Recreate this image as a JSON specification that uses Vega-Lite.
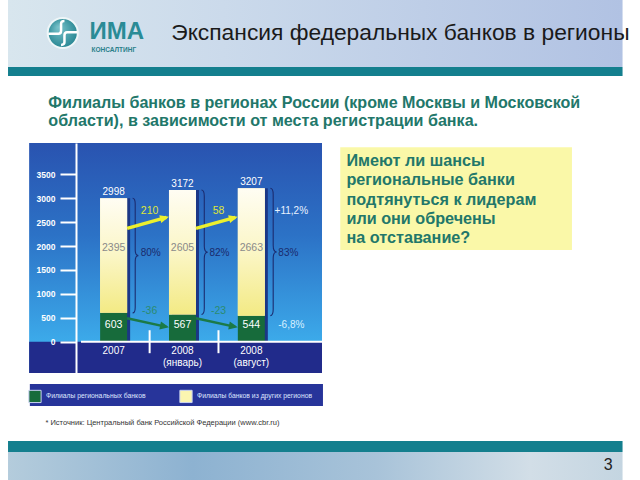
{
  "$schema": "https://vega.github.io/schema/vega-lite/v6.json",
  "width": 251,
  "height": 230,
  "autosize": {"type": "none"},
  "padding": {"left": 76, "top": 143, "right": 313, "bottom": 107},
  "background": "#ffffff",
  "config": {"font": "Liberation Sans", "view": {"stroke": null},
    "locale": {"number": {"decimal": ",", "thousands": "", "grouping": [3], "currency": ["", ""], "minus": "-"}}},
  "resolve": {"axis": {"y": "independent", "x": "independent"}},
  "datasets": {
    "bars": [
      {"n": 1, "period": "2007", "Филиалы региональных банков": 603, "Филиалы банков из других регионов": 2395, "total": 2998, "share": 0.799},
      {"n": 2, "period": "2008 (январь)", "Филиалы региональных банков": 567, "Филиалы банков из других регионов": 2605, "total": 3172, "share": 0.821},
      {"n": 3, "period": "2008 (август)", "Филиалы региональных банков": 544, "Филиалы банков из других регионов": 2663, "total": 3207, "share": 0.830}
    ],
    "changes": [
      {"from": 1, "to": 2, "series": "other", "change": 210},
      {"from": 2, "to": 3, "series": "other", "change": 58},
      {"from": 1, "to": 2, "series": "regional", "change": -36},
      {"from": 2, "to": 3, "series": "regional", "change": -23}
    ],
    "growth": [
      {"n": 3, "series": "other", "growth": "+11,2%"},
      {"n": 3, "series": "regional", "growth": "-6,8%"}
    ]
  },
  "layer": [
    {
      "data": {"values": [{}]},
      "mark": {"type": "rect", "fill": {"gradient": "linear", "x1": 0, "y1": 0, "x2": 1, "y2": 0, "stops": [{"offset": 0, "color": "#d8e6ee"}, {"offset": 0.35, "color": "#cbdaeb"}, {"offset": 1, "color": "#b1c2e3"}]}},
      "encoding": {
        "x": {"datum": -0.534, "type": "quantitative", "axis": null}, "x2": {"datum": 8.392},
        "y": {"datum": 7144, "type": "quantitative", "axis": null}, "y2": {"datum": 5743}
      }
    },
    {
      "data": {"values": [{}]},
      "mark": {"type": "rect", "fill": "#147f8e"},
      "encoding": {
        "x": {"datum": -0.534, "type": "quantitative", "axis": null}, "x2": {"datum": 8.392},
        "y": {"datum": 5743, "type": "quantitative", "axis": null}, "y2": {"datum": 5555}
      }
    },
    {
      "data": {"values": [{}]},
      "mark": {"type": "point", "shape": "circle", "filled": true, "size": 908, "opacity": 1, "fill": {"gradient": "radial", "x1": 0.35, "y1": 0.3, "r1": 0, "x2": 0.5, "y2": 0.5, "r2": 0.6, "stops": [{"offset": 0, "color": "#7cc4cc"}, {"offset": 1, "color": "#1d7f8c"}]}, "stroke": "#eef6f8", "strokeWidth": 2},
      "encoding": {"x": {"datum": 0.261, "type": "quantitative", "axis": null}, "y": {"datum": 6454, "type": "quantitative", "axis": null}}
    },
    {
      "data": {"values": [{}]},
      "mark": {"type": "point", "shape": "M -0.85 0.05 L -0.25 0.05 Q -0.1 0.05 -0.1 -0.15 L -0.1 -0.55 Q -0.1 -0.7 0.1 -0.7 M 0.85 -0.05 L 0.25 -0.05 Q 0.1 -0.05 0.1 0.15 L 0.1 0.55 Q 0.1 0.7 -0.1 0.7", "filled": false, "size": 1156, "opacity": 1, "stroke": "#ffffff", "strokeWidth": 2.5},
      "encoding": {"x": {"datum": 0.261, "type": "quantitative", "axis": null}, "y": {"datum": 6454, "type": "quantitative", "axis": null}}
    },
    {
      "data": {"values": [{}]},
      "mark": {"type": "text", "text": "ИМА", "align": "left", "baseline": "middle", "fontSize": 24, "fontWeight": "bold", "color": "#2a8b96"},
      "encoding": {"x": {"datum": 0.651, "type": "quantitative", "axis": null}, "y": {"datum": 6475, "type": "quantitative", "axis": null}}
    },
    {
      "data": {"values": [{}]},
      "mark": {"type": "text", "text": "КОНСАЛТИНГ", "align": "left", "baseline": "middle", "fontSize": 6.5, "fontWeight": "bold", "color": "#2a7f8a"},
      "encoding": {"x": {"datum": 0.679, "type": "quantitative", "axis": null}, "y": {"datum": 6098, "type": "quantitative", "axis": null}}
    },
    {
      "data": {"values": [{}]},
      "mark": {"type": "text", "text": "Экспансия федеральных банков в регионы", "align": "left", "baseline": "middle", "fontSize": 22.8, "color": "#1a1a1a"},
      "encoding": {"x": {"datum": 1.837, "type": "quantitative", "axis": null}, "y": {"datum": 6454, "type": "quantitative", "axis": null}}
    },
    {
      "data": {"values": [{}]},
      "mark": {"type": "text", "text": ["Филиалы банков в регионах России (кроме Москвы и Московской", "области), в зависимости от места регистрации банка."], "align": "left", "baseline": "alphabetic", "lineHeight": 18, "fontSize": 16.1, "fontWeight": "bold", "color": "#22776a"},
      "encoding": {"x": {"datum": 0.0516, "type": "quantitative", "axis": null}, "y": {"datum": 4886, "type": "quantitative", "axis": null}}
    },
    {
      "data": {"values": [{}]},
      "mark": {"type": "rect", "fill": "#faf8a8"},
      "encoding": {
        "x": {"datum": 4.2915, "type": "quantitative", "axis": null}, "x2": {"datum": 7.657},
        "y": {"datum": 4064, "type": "quantitative", "axis": null}, "y2": {"datum": 1917}
      }
    },
    {
      "data": {"values": [{}]},
      "mark": {"type": "text", "text": ["Имеют ли шансы", "региональные банки", "подтянуться к лидерам", "или они обречены", "на отставание?"], "align": "left", "baseline": "alphabetic", "lineHeight": 19.3, "fontSize": 16.2, "fontWeight": "bold", "color": "#22776a"},
      "encoding": {"x": {"datum": 4.382, "type": "quantitative", "axis": null}, "y": {"datum": 3673, "type": "quantitative", "axis": null}}
    },
    {
      "data": {"values": [{}]},
      "mark": {"type": "rect", "fill": {"gradient": "linear", "x1": 0, "y1": 0, "x2": 0, "y2": 1, "stops": [{"offset": 0, "color": "#2953b0"}, {"offset": 0.4, "color": "#2c72c6"}, {"offset": 0.864, "color": "#3caaea"}, {"offset": 1, "color": "#3caaea"}]}},
      "encoding": {
        "x": {"datum": -0.2273, "type": "quantitative", "axis": null}, "x2": {"datum": 4.0265},
        "y": {"datum": 4154, "type": "quantitative", "axis": null}, "y2": {"datum": -654}
      }
    },
    {
      "data": {"values": [{}]},
      "mark": {"type": "rect", "fill": "#212b8b"},
      "encoding": {
        "x": {"datum": -0.2273, "type": "quantitative", "axis": null}, "x2": {"datum": 4.0265},
        "y": {"datum": 0, "type": "quantitative", "axis": null}, "y2": {"datum": -654}
      }
    },
    {
      "data": {"values": [{}]},
      "mark": {"type": "rect", "fill": "#27349a"},
      "encoding": {
        "x": {"datum": -0.217, "type": "quantitative", "axis": null}, "x2": {"datum": 4.0405},
        "y": {"datum": -884, "type": "quantitative", "axis": null}, "y2": {"datum": -1344}
      }
    },
    {
      "data": {"values": [{}]},
      "mark": {"type": "text", "text": "* Источник: Центральный банк Российской Федерации (www.cbr.ru)", "align": "left", "baseline": "middle", "fontSize": 7.5, "color": "#333333"},
      "encoding": {"x": {"datum": 0.0098, "type": "quantitative", "axis": null}, "y": {"datum": -1700, "type": "quantitative", "axis": null}}
    },
    {
      "data": {"values": [{}]},
      "mark": {"type": "rect", "fill": "#147f8e"},
      "encoding": {
        "x": {"datum": -0.534, "type": "quantitative", "axis": null}, "x2": {"datum": 8.392},
        "y": {"datum": -2076, "type": "quantitative", "axis": null}, "y2": {"datum": -2306}
      }
    },
    {
      "data": {"values": [{}]},
      "mark": {"type": "rect", "fill": {"gradient": "linear", "x1": 0, "y1": 0, "x2": 1, "y2": 0, "stops": [{"offset": 0, "color": "#b4ccdc"}, {"offset": 0.3, "color": "#8db2d1"}, {"offset": 0.6, "color": "#a8c3d9"}, {"offset": 0.85, "color": "#d2dee7"}, {"offset": 1, "color": "#c4d5e1"}]}},
      "encoding": {
        "x": {"datum": -0.534, "type": "quantitative", "axis": null}, "x2": {"datum": 8.392},
        "y": {"datum": -2306, "type": "quantitative", "axis": null}, "y2": {"datum": -2891}
      }
    },
    {
      "data": {"values": [{}]},
      "mark": {"type": "text", "text": "3", "align": "center", "baseline": "middle", "fontSize": 16, "color": "#222222"},
      "encoding": {"x": {"datum": 8.183, "type": "quantitative", "axis": null}, "y": {"datum": -2578, "type": "quantitative", "axis": null}}
    },
    {
      "data": {"name": "bars"},
      "mark": {"type": "bar", "width": 27, "xOffset": 3, "color": "#1b3786"},
      "encoding": {
        "x": {"field": "n", "type": "quantitative", "axis": null},
        "y": {"field": "total", "type": "quantitative", "axis": null},
        "y2": {"datum": 0}
      }
    },
    {
      "data": {"name": "bars"},
      "transform": [{"fold": ["Филиалы региональных банков", "Филиалы банков из других регионов"], "as": ["segment", "value"]}],
      "mark": {"type": "bar", "width": 27},
      "encoding": {
        "x": {"field": "n", "type": "quantitative", "scale": {"domain": [0.526, 4.0265], "nice": false, "zero": false}, "axis": null},
        "y": {"field": "value", "type": "quantitative", "stack": "zero", "scale": {"domain": [-654, 4154], "nice": false, "zero": false},
          "axis": {"orient": "left", "values": [0, 500, 1000, 1500, 2000, 2500, 3000, 3500], "format": "d", "title": null, "grid": false, "domainColor": "#ffffff", "domainWidth": 2, "tickColor": "#ffffff", "tickWidth": 2, "tickSize": 16, "labelColor": "#ffffff", "labelFontWeight": "bold", "labelFontSize": 8.5, "labelPadding": 5, "zindex": 2}},
        "color": {"field": "segment", "type": "nominal",
          "scale": {"domain": ["Филиалы региональных банков", "Филиалы банков из других регионов"], "range": ["#176b3b", "#fbf5b0"]},
          "legend": {"orient": "none", "legendX": -48, "legendY": 246, "direction": "horizontal", "title": null, "symbolType": "square", "symbolSize": 150, "symbolStrokeColor": "#c9d2f2", "symbolStrokeWidth": 1, "symbolOpacity": 1, "labelColor": "#dfe6ff", "labelFontSize": 6.8, "labelOffset": 4, "columnPadding": 31, "padding": 0}},
        "order": {"field": "segment", "sort": "descending"}
      }
    },
    {
      "data": {"name": "bars"},
      "mark": {"type": "bar", "width": 27, "fill": {"gradient": "linear", "x1": 0, "y1": 0, "x2": 0, "y2": 1, "stops": [{"offset": 0, "color": "#fffdf3"}, {"offset": 0.5, "color": "#fbf6c6"}, {"offset": 1, "color": "#f3ea84"}]}},
      "encoding": {
        "x": {"field": "n", "type": "quantitative", "axis": null},
        "y": {"field": "Филиалы региональных банков", "type": "quantitative", "axis": null},
        "y2": {"field": "total"}
      }
    },
    {
      "data": {"values": [{}]},
      "mark": {"type": "rule", "color": "#ffffff", "strokeWidth": 2},
      "encoding": {
        "x": {"datum": 0.526, "type": "quantitative", "axis": null}, "x2": {"datum": 4.0265},
        "y": {"datum": 0, "type": "quantitative", "axis": null}
      }
    },
    {
      "data": {"name": "bars"},
      "transform": [{"filter": "datum.n < 3"}],
      "mark": {"type": "rule", "color": "#ffffff", "strokeWidth": 2, "xOffset": 36},
      "encoding": {
        "x": {"field": "n", "type": "quantitative", "axis": null},
        "y": {"datum": 240, "type": "quantitative", "axis": null}, "y2": {"datum": -240}
      }
    },
    {
      "data": {"name": "bars"},
      "mark": {"type": "point", "shape": "M 0 0 Q 0.045 0 0.045 0.1 L 0.045 0.9 Q 0.045 1 0.1 1 Q 0.045 1 0.045 1.1 L 0.045 1.9 Q 0.045 2 0 2", "filled": false, "opacity": 1, "stroke": "#1b2c70", "strokeWidth": 1.1, "xOffset": 19},
      "encoding": {
        "x": {"field": "n", "type": "quantitative", "axis": null},
        "y": {"field": "total", "type": "quantitative", "axis": null},
        "size": {"field": "Филиалы банков из других регионов", "type": "quantitative", "scale": {"type": "pow", "exponent": 2, "domain": [0, 3000], "range": [0, 20590]}, "legend": null}
      }
    },
    {
      "data": {"name": "bars"},
      "mark": {"type": "text", "align": "left", "baseline": "middle", "fontSize": 10, "color": "#1b2b6c", "xOffset": 27},
      "encoding": {
        "x": {"field": "n", "type": "quantitative", "axis": null},
        "y": {"datum": 1850, "type": "quantitative", "axis": null},
        "text": {"field": "share", "type": "quantitative", "format": ".0%"}
      }
    },
    {
      "data": {"name": "bars"},
      "mark": {"type": "text", "align": "center", "baseline": "bottom", "dy": -1, "fontSize": 10, "color": "#ffffff"},
      "encoding": {
        "x": {"field": "n", "type": "quantitative", "axis": null},
        "y": {"field": "total", "type": "quantitative", "axis": null},
        "text": {"field": "total", "type": "quantitative", "format": "d"}
      }
    },
    {
      "data": {"name": "bars"},
      "mark": {"type": "text", "align": "center", "baseline": "middle", "fontSize": 10.5, "color": "#8a8a8a"},
      "encoding": {
        "x": {"field": "n", "type": "quantitative", "axis": null},
        "y": {"datum": 1960, "type": "quantitative", "axis": null},
        "text": {"field": "Филиалы банков из других регионов", "type": "quantitative", "format": "d"}
      }
    },
    {
      "data": {"name": "bars"},
      "mark": {"type": "text", "align": "center", "baseline": "middle", "fontSize": 10.5, "color": "#ffffff"},
      "encoding": {
        "x": {"field": "n", "type": "quantitative", "axis": null},
        "y": {"datum": 350, "type": "quantitative", "axis": null},
        "text": {"field": "Филиалы региональных банков", "type": "quantitative", "format": "d"}
      }
    },
    {
      "data": {"name": "bars"},
      "mark": {"type": "text", "align": "center", "baseline": "top", "dy": 4, "fontSize": 10, "lineHeight": 12.5, "lineBreak": " ", "color": "#ffffff"},
      "encoding": {
        "x": {"field": "n", "type": "quantitative", "axis": null},
        "y": {"datum": 0, "type": "quantitative", "axis": null},
        "text": {"field": "period", "type": "nominal"}
      }
    },
    {
      "data": {"name": "changes"},
      "transform": [{"filter": "datum.series == 'other'"}],
      "mark": {"type": "rule", "color": "#ecf02e", "strokeWidth": 3.5, "xOffset": 13.5, "x2Offset": -16},
      "encoding": {
        "x": {"field": "from", "type": "quantitative", "axis": null}, "x2": {"field": "to"},
        "y": {"datum": 2370, "type": "quantitative", "axis": null}, "y2": {"datum": 2600}
      }
    },
    {
      "data": {"name": "changes"},
      "transform": [{"filter": "datum.series == 'other'"}],
      "mark": {"type": "point", "shape": "M 0 0 L -2 -0.9 L -2 0.9 Z", "filled": true, "opacity": 1, "size": 81, "color": "#ecf02e", "angle": 345.7, "xOffset": -13.5},
      "encoding": {
        "x": {"field": "to", "type": "quantitative", "axis": null},
        "y": {"datum": 2610, "type": "quantitative", "axis": null}
      }
    },
    {
      "data": {"name": "changes"},
      "transform": [{"filter": "datum.series == 'regional'"}],
      "mark": {"type": "rule", "color": "#1b7a47", "strokeWidth": 2.5, "xOffset": 13.5, "x2Offset": -16},
      "encoding": {
        "x": {"field": "from", "type": "quantitative", "axis": null}, "x2": {"field": "to"},
        "y": {"datum": 490, "type": "quantitative", "axis": null}, "y2": {"datum": 310}
      }
    },
    {
      "data": {"name": "changes"},
      "transform": [{"filter": "datum.series == 'regional'"}],
      "mark": {"type": "point", "shape": "M 0 0 L -2 -0.9 L -2 0.9 Z", "filled": true, "opacity": 1, "size": 81, "color": "#1b7a47", "angle": 11.4, "xOffset": -13.5},
      "encoding": {
        "x": {"field": "to", "type": "quantitative", "axis": null},
        "y": {"datum": 300, "type": "quantitative", "axis": null}
      }
    },
    {
      "data": {"name": "changes"},
      "transform": [{"filter": "datum.series == 'other'"}],
      "mark": {"type": "text", "align": "center", "baseline": "middle", "fontSize": 10.5, "color": "#dfe63a", "xOffset": 36},
      "encoding": {
        "x": {"field": "from", "type": "quantitative", "axis": null},
        "y": {"datum": 2739, "type": "quantitative", "axis": null},
        "text": {"field": "change", "type": "quantitative"}
      }
    },
    {
      "data": {"name": "changes"},
      "transform": [{"filter": "datum.series == 'regional'"}],
      "mark": {"type": "text", "align": "center", "baseline": "middle", "fontSize": 10.5, "color": "#2b8c70", "xOffset": 36},
      "encoding": {
        "x": {"field": "from", "type": "quantitative", "axis": null},
        "y": {"datum": 648, "type": "quantitative", "axis": null},
        "text": {"field": "change", "type": "quantitative"}
      }
    },
    {
      "data": {"name": "growth"},
      "transform": [{"filter": "datum.series == 'other'"}],
      "mark": {"type": "text", "align": "center", "baseline": "middle", "fontSize": 10, "color": "#e8f2ff", "xOffset": 40},
      "encoding": {
        "x": {"field": "n", "type": "quantitative", "axis": null},
        "y": {"datum": 2733, "type": "quantitative", "axis": null},
        "text": {"field": "growth", "type": "nominal"}
      }
    },
    {
      "data": {"name": "growth"},
      "transform": [{"filter": "datum.series == 'regional'"}],
      "mark": {"type": "text", "align": "center", "baseline": "middle", "fontSize": 10, "color": "#d8f0ff", "xOffset": 40},
      "encoding": {
        "x": {"field": "n", "type": "quantitative", "axis": null},
        "y": {"datum": 349, "type": "quantitative", "axis": null},
        "text": {"field": "growth", "type": "nominal"}
      }
    }
  ]
}
